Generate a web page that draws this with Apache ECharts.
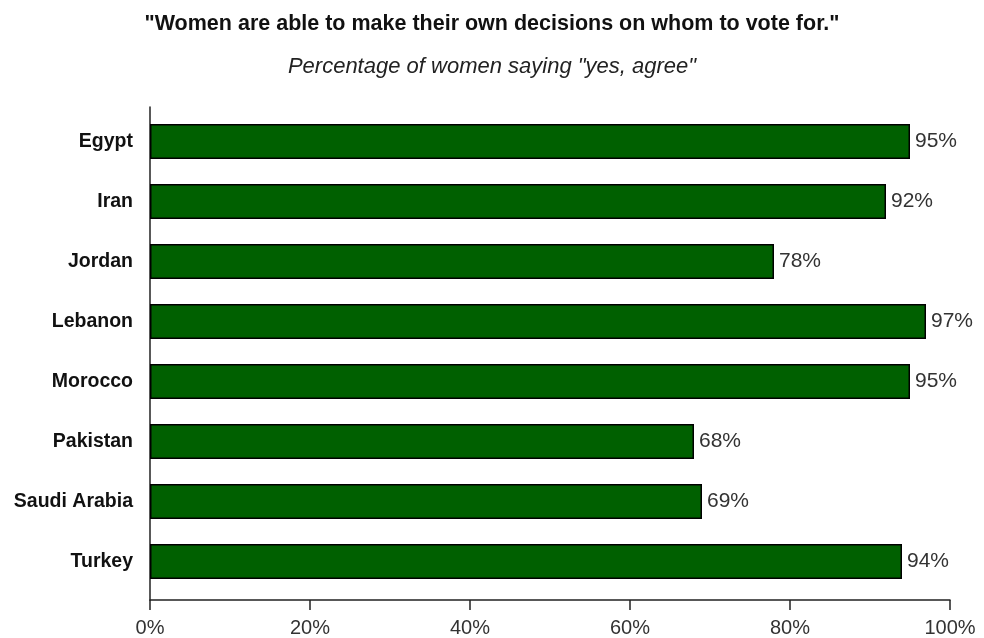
<!DOCTYPE html>
<html>
<head>
<meta charset="utf-8">
<script src="https://cdn.jsdelivr.net/npm/echarts@6/dist/echarts.min.js"></script>
<style>
  html, body { margin: 0; padding: 0; background: #fff; }
  #chart { width: 984px; height: 638px; }
</style>
</head>
<body>
<div id="chart"></div>
<script>
// Survey results: share of women agreeing with the statement
const countries = ['Egypt', 'Iran', 'Jordan', 'Lebanon', 'Morocco', 'Pakistan', 'Saudi Arabia', 'Turkey'];
const agreePct = [95, 92, 78, 97, 95, 68, 69, 94];
const pctTicks = [0, 20, 40, 60, 80, 100];

const titleText = '"Women are able to make their own decisions on whom to vote for."';
const subtitleText = 'Percentage of women saying "yes, agree"';

const FONT = '"Liberation Sans", Arial, Helvetica, sans-serif';

const chart = echarts.init(document.getElementById('chart'), null, { renderer: 'canvas' });

chart.setOption({
  backgroundColor: '#ffffff',
  animation: false,
  title: [
    {
      text: titleText,
      left: 'center',
      top: 8,
      textStyle: { fontFamily: FONT, fontSize: 21.5, fontWeight: 'bold', color: '#111' }
    },
    {
      text: subtitleText,
      left: 'center',
      top: 51,
      textStyle: { fontFamily: FONT, fontSize: 22, fontWeight: 'normal', fontStyle: 'italic', color: '#222' }
    }
  ],
  grid: [
    // bars
    { left: 150, right: 34, top: 111.5, bottom: 46.5, containLabel: false },
    // frame: axis lines and percentage scale
    { left: 150, right: 34, top: 107, bottom: 35, containLabel: false }
  ],
  xAxis: [
    {
      gridIndex: 0, type: 'value', min: 0, max: 100, interval: 20,
      show: false
    },
    {
      gridIndex: 1, type: 'value', min: 0, max: 100, interval: 20,
      axisLine: { show: true, lineStyle: { color: '#222', width: 1.5 } },
      axisTick: { show: true, inside: false, length: 10, lineStyle: { color: '#222', width: 1.5 } },
      splitLine: { show: false },
      axisLabel: {
        margin: 18,
        fontFamily: FONT, fontSize: 20, color: '#333',
        formatter: function (v) { return pctTicks.indexOf(v) >= 0 ? v + '%' : ''; }
      }
    }
  ],
  yAxis: [
    {
      gridIndex: 0, type: 'category', data: countries, inverse: true,
      axisLine: { show: false },
      axisTick: { show: false },
      axisLabel: {
        margin: 17,
        fontFamily: FONT, fontSize: 19.5, fontWeight: 'bold', color: '#111'
      }
    },
    {
      gridIndex: 1, type: 'value', min: 0, max: 1,
      axisLine: { show: true, lineStyle: { color: '#222', width: 1.5 } },
      axisTick: { show: false },
      axisLabel: { show: false },
      splitLine: { show: false }
    }
  ],
  series: [
    {
      type: 'bar',
      xAxisIndex: 0,
      yAxisIndex: 0,
      data: agreePct,
      barWidth: 35,
      itemStyle: { color: '#006000', borderColor: '#000', borderWidth: 1.5 },
      label: {
        show: true,
        position: 'right',
        distance: 5,
        fontFamily: FONT, fontSize: 21, color: '#333',
        formatter: '{c}%'
      }
    }
  ]
});
</script>
</body>
</html>
